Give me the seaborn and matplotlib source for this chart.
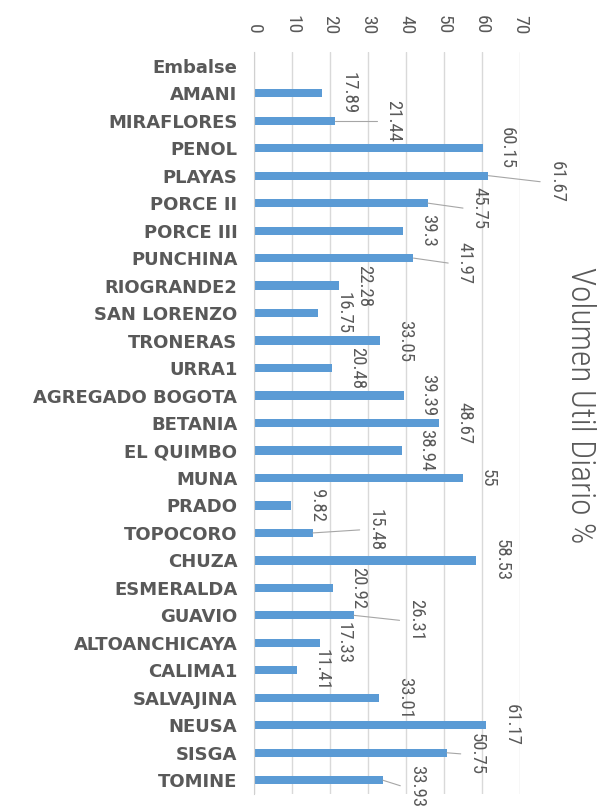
import numpy as np
import pandas as pd
import matplotlib
matplotlib.use("Agg")
import matplotlib.pyplot as plt
import seaborn as sns

# header row of the source table shows up as an empty category
header = "Embalse"
reservoirs = [
    "AMANI", "MIRAFLORES", "PENOL", "PLAYAS", "PORCE II", "PORCE III",
    "PUNCHINA", "RIOGRANDE2", "SAN LORENZO", "TRONERAS", "URRA1",
    "AGREGADO BOGOTA", "BETANIA", "EL QUIMBO", "MUNA", "PRADO", "TOPOCORO",
    "CHUZA", "ESMERALDA", "GUAVIO", "ALTOANCHICAYA", "CALIMA1", "SALVAJINA",
    "NEUSA", "SISGA", "TOMINE",
]
volumen = [
    17.89, 21.44, 60.15, 61.67, 45.75, 39.3, 41.97, 22.28, 16.75, 33.05,
    20.48, 39.39, 48.67, 38.94, 55, 9.82, 15.48, 58.53, 20.92, 26.31,
    17.33, 11.41, 33.01, 61.17, 50.75, 33.93,
]
x_ticks = [0, 10, 20, 30, 40, 50, 60, 70]
title = "Volumen Util Diario %"

# where Excel put each data label (x in data units, y shift in category units)
label_x = [
    24.8, 36.6, 66.6, 79.6, 59.3, 45.7, 55.4, 29.0, 23.5, 39.7, 27.2, 45.7,
    55.4, 45.4, 61.4, 16.7, 32.1, 65.3, 27.4, 42.6, 23.5, 17.8, 39.7, 67.9,
    58.7, 42.8,
]
label_dy = [
    0, 0, 0, 0.22, 0.18, 0, 0.18, 0, 0, 0, 0, 0, 0, 0, 0, 0, -0.11, 0, 0,
    0.18, 0, 0, 0, 0, 0.04, 0.2,
]
has_leader = {"MIRAFLORES", "PLAYAS", "PORCE II", "PUNCHINA", "TOPOCORO",
              "GUAVIO", "SISGA", "TOMINE"}

sns.set_style("white")
narrow = ["Roboto Condensed", "Open Sans Condensed", "Liberation Sans Narrow",
          "Liberation Sans", "DejaVu Sans"]
plt.rcParams["font.family"] = ["DejaVu Sans"]

df = pd.DataFrame({"Embalse": reservoirs, "Volumen": volumen})
order = [header] + reservoirs

fig = plt.figure(figsize=(5.99, 8.08), dpi=100)
ax = fig.add_axes([254 / 599, 1 - 794 / 808, (520 - 254) / 599, (794 - 52) / 808])

sns.barplot(data=df, x="Volumen", y="Embalse", order=order, orient="h",
            color="#5B9BD5", width=0.3, errorbar=None, ax=ax,
            saturation=1, edgecolor="none")

ax.set_xlim(0, 70)
ax.set_ylim(len(order) - 0.5, -0.5)
ax.set_xticks(x_ticks)
ax.xaxis.set_ticks_position("top")
ax.tick_params(axis="x", top=True, labeltop=True, bottom=False, labelbottom=False,
               length=0, pad=13, labelcolor="#595959")
ax.set_xticklabels([str(t) for t in x_ticks], rotation=-90, family=narrow,
                   fontsize=14, va="bottom", ha="center")
ax.tick_params(axis="y", length=0, pad=12)
ax.set_yticks(range(len(order)))
ax.set_yticklabels(order, fontsize=13, fontweight="bold", color="#595959")

ax.grid(axis="x", color="#D9D9D9", lw=1)
ax.set_axisbelow(True)
for s in ["top", "right", "bottom"]:
    ax.spines[s].set_visible(False)
ax.spines["left"].set_color("#D0D0D0")
ax.set_xlabel("")
ax.set_ylabel("")

for i, (name, v) in enumerate(zip(reservoirs, volumen)):
    yc = i + 1
    ly = yc + label_dy[i]
    ax.text(label_x[i], ly, f"{v:g}", rotation=-90, ha="center", va="center",
            fontsize=13.5, family=narrow, color="#595959", clip_on=False)
    if name in has_leader:
        ax.plot([v, label_x[i] - 4.3], [yc, ly], color="#A6A6A6", lw=0.8,
                clip_on=False)

fig.text(580 / 599, 1 - 405 / 808, title, rotation=-90, ha="center", va="center",
         fontsize=24, fontweight="light", family=narrow, color="#595959")

fig.savefig("out.png", dpi=100)
